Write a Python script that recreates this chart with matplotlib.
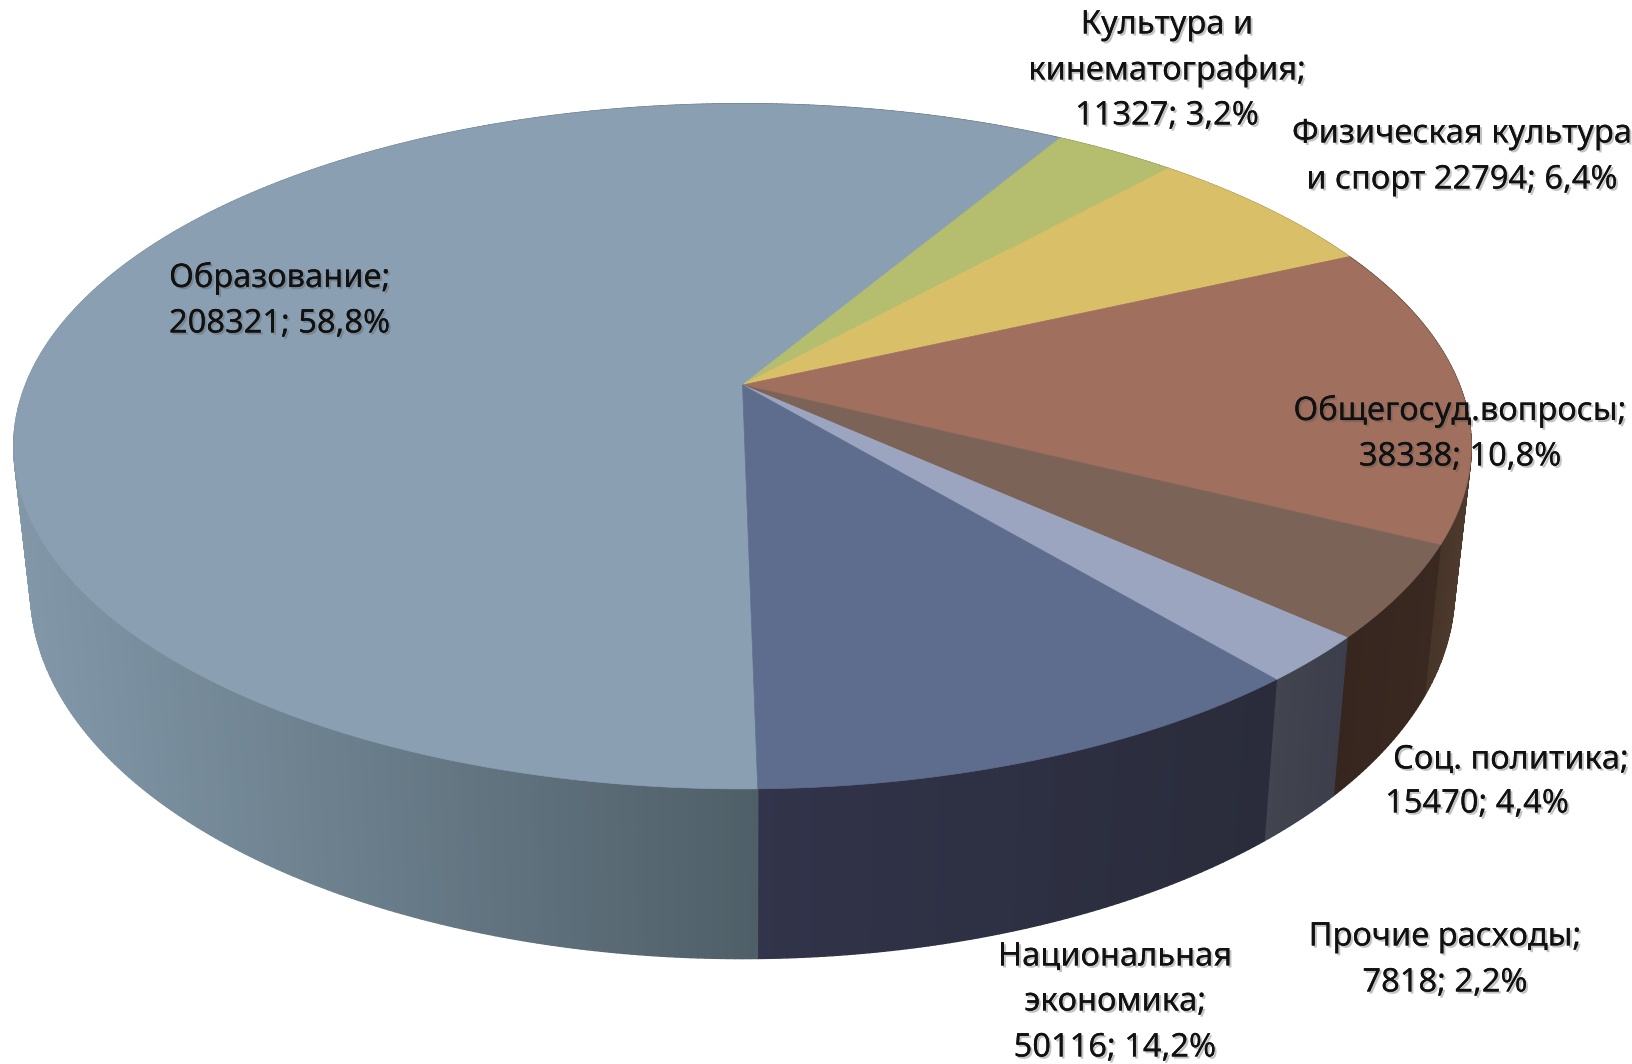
import numpy as np
import matplotlib
matplotlib.use("Agg")
import matplotlib.pyplot as plt
from matplotlib.collections import PolyCollection
from matplotlib.colors import to_rgb
import matplotlib.patheffects as pe

# slices clockwise from the front; the picture draws 50116 on the brown slice and 38338 on the dark-blue one
slice_names = ["Образование", "Культура и кинематография", "Физическая культура и спорт",
               "Общегосуд.вопросы", "Соц. политика", "Прочие расходы", "Национальная экономика"]
slice_values = [208321, 11327, 22794, 50116, 15470, 7818, 38338]
top_colors = ["#8A9FB2", "#B4BE6E", "#D8BF68", "#A06F5D", "#7C6357", "#9CA5BF", "#5E6D8E"]
wall_left = ["#8298A9", "#7D8450", "#9A8748", "#3F2E26", "#36261F", "#42454F", "#31344A"]
wall_right = ["#4F5F68", "#7D8450", "#9A8748", "#4F3B2D", "#3A2921", "#3C3F4B", "#2A2C3B"]

label_lines = [
    ("Образование;", 169, 278, "left"), ("208321; 58,8%", 169, 324, "left"),
    ("Культура и", 1167, 25, "center"), ("кинематография;", 1167, 71, "center"), ("11327; 3,2%", 1167, 116, "center"),
    ("Физическая культура", 1462, 134, "center"), ("и спорт 22794; 6,4%", 1462, 180, "center"),
    ("Общегосуд.вопросы;", 1460, 411, "center"), ("38338; 10,8%", 1460, 457, "center"),
    ("Соц. политика;", 1511, 760, "center"), ("15470; 4,4%", 1477, 804, "center"),
    ("Прочие расходы;", 1445, 937, "center"), ("7818; 2,2%", 1445, 983, "center"),
    ("Национальная", 1115, 957, "center"), ("экономика;", 1115, 1002, "center"), ("50116; 14,2%", 1115, 1048, "center"),
]

W, H = 1633, 1064
CX, CY = 742.5, 385.0     # apex of the pie
A, C, K = 717.0, 331.6, 0.179   # perspective of the top face
DEPTH, SX, SY = 139.0, 0.977, 1.076  # bottom rim relative to the top rim
START_DEG = -89.0


def top_xy(theta):
    w = 1 + K * np.sin(theta)
    return A * np.cos(theta) / w, -C * np.sin(theta) / w  # offsets from apex, y down


def bottom_xy(theta):
    x, y = top_xy(theta)
    return SX * x, DEPTH + SY * y


fig = plt.figure(figsize=(W / 100, H / 100), dpi=100)
ax = fig.add_axes([0, 0, 1, 1])
ax.set_xlim(0, W)
ax.set_ylim(H, 0)
ax.axis("off")

total = float(sum(slice_values))
angles = np.radians(START_DEG - np.cumsum([0] + slice_values) / total * 360.0)

# side wall
quads, cols, depth = [], [], []
for i in range(len(slice_values)):
    n = max(4, int(abs(angles[i + 1] - angles[i]) / np.radians(0.5)))
    th = np.linspace(angles[i], angles[i + 1], n + 1)
    tx, ty = top_xy(th)
    bx, by = bottom_xy(th)
    vis = np.sin(th) < 0.25
    vx = tx[vis] if vis.any() else tx
    lo, hi = vx.min(), vx.max()
    cl, cr = np.array(to_rgb(wall_left[i])), np.array(to_rgb(wall_right[i]))
    for j in range(n):
        q = [(CX + tx[j], CY + ty[j]), (CX + tx[j + 1], CY + ty[j + 1]),
             (CX + bx[j + 1], CY + by[j + 1]), (CX + bx[j], CY + by[j])]
        t = np.clip(((tx[j] + tx[j + 1]) / 2 - lo) / max(hi - lo, 1e-6), 0, 1)
        quads.append(q)
        cols.append(tuple(cl + (cr - cl) * t))
        depth.append(ty[j])
order = np.argsort(depth)
pc = PolyCollection([quads[o] for o in order], facecolors=[cols[o] for o in order],
                    edgecolors=[cols[o] for o in order], linewidths=1.0, zorder=1)
ax.add_collection(pc)

# top face
for i in range(len(slice_values)):
    n = max(8, int(abs(angles[i + 1] - angles[i]) / np.radians(0.5)))
    th = np.linspace(angles[i], angles[i + 1], n + 1)
    tx, ty = top_xy(th)
    ax.fill(np.r_[CX, CX + tx], np.r_[CY, CY + ty], facecolor=top_colors[i],
            edgecolor=top_colors[i], linewidth=0.5, zorder=2)

shadow = [pe.withSimplePatchShadow(offset=(1.5, -1.5), shadow_rgbFace="#555555", alpha=0.35), pe.Normal()]
for text, x, y, ha in label_lines:
    ax.text(x, y, text, ha=ha, va="center", fontsize=23.5, family="Noto Sans",
            color="#111111", zorder=5, path_effects=shadow)

fig.savefig("out.png", dpi=100, facecolor="white")
